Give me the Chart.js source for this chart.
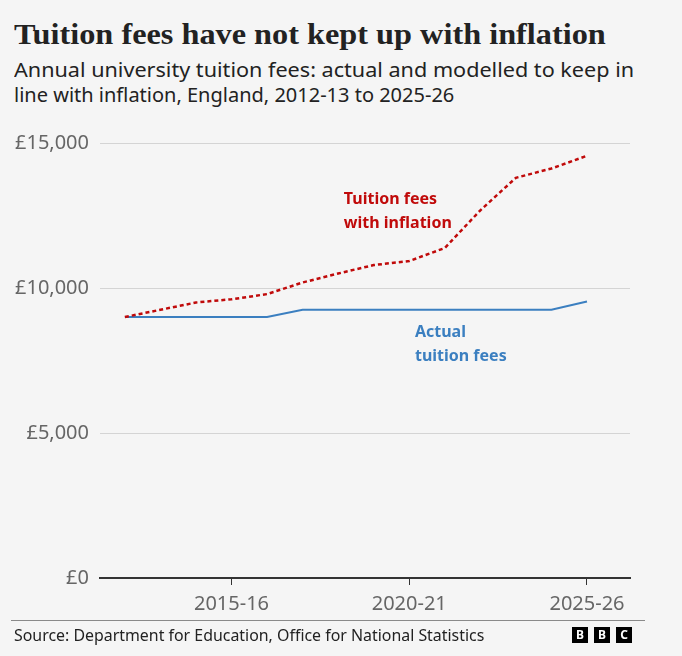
<!DOCTYPE html>
<html>
<head>
<meta charset="utf-8">
<script src="https://cdn.jsdelivr.net/npm/chart.js@4/dist/chart.umd.min.js"></script>
<style>
  body { margin: 0; background: #f5f5f5; width: 682px; height: 656px; position: relative; overflow: hidden; font-family: 'Noto Sans', sans-serif; }
  #title { position: absolute; left: 14px; top: 17px; font: bold 30px 'Liberation Serif', serif; color: #222; white-space: nowrap; transform-origin: 0 0; }
  .sub { position: absolute; left: 14px; font-size: 20px; color: #222; white-space: nowrap; transform-origin: 0 0; }
  #wrap { position: absolute; left: 0; top: 120px; width: 682px; height: 503px; }
  #rule { position: absolute; left: 11px; top: 620px; width: 634px; height: 1px; background: #8a8a8a; }
  #source { position: absolute; left: 14px; top: 624px; font-size: 16px; color: #222; white-space: nowrap; transform-origin: 0 0; }
  .logo { position: absolute; top: 627px; width: 16px; height: 16px; background: #000; color: #fff; font: bold 12px 'Noto Sans', sans-serif; text-align: center; line-height: 16px; }
</style>
</head>
<body>
<div id="title">Tuition fees have not kept up with inflation</div>
<div class="sub" id="sub1" style="top:56px">Annual university tuition fees: actual and modelled to keep in</div>
<div class="sub" id="sub2" style="top:81px">line with inflation, England, 2012-13 to 2025-26</div>
<div id="wrap"><canvas id="feesChart"></canvas></div>
<div id="rule"></div>
<div id="source">Source: Department for Education, Office for National Statistics</div>
<div class="logo" style="left:572px">B</div>
<div class="logo" style="left:594px">B</div>
<div class="logo" style="left:616px">C</div>
<script>
// academic years shown on the x axis
const years = ['2012-13', '2013-14', '2014-15', '2015-16', '2016-17', '2017-18', '2018-19',
  '2019-20', '2020-21', '2021-22', '2022-23', '2023-24', '2024-25', '2025-26'];
// actual fee cap (£)
const actualFees = [9000, 9000, 9000, 9000, 9000, 9250, 9250, 9250, 9250, 9250, 9250, 9250, 9250, 9535];
// fee if it had risen with inflation (£)
const inflationFees = [9000, 9250, 9500, 9610, 9790, 10190, 10500, 10790, 10930, 11380, 12680, 13800, 14120, 14560];
const xTickLabels = ['2015-16', '2020-21', '2025-26'];
const yTicks = [0, 5000, 10000, 15000];

const RED = '#c00a0a';
const BLUE = '#3b7fc0';

// scale the text blocks to the widths they take in the original
const fit = (id, w) => {
  const el = document.getElementById(id);
  el.style.transform = `scaleX(${w / el.offsetWidth})`;
};
fit('title', 592);
fit('sub1', 620);
fit('source', 470);

const toPoints = (vals) => vals.map((v, i) => ({ x: i, y: v }));

// text labels placed next to the lines
const lineLabels = {
  id: 'lineLabels',
  afterDatasetsDraw(chart) {
    const { ctx, scales: { x, y } } = chart;
    const items = [
      { lines: ['Tuition fees', 'with inflation'], color: RED, at: [6.16, 12880] },
      { lines: ['Actual', 'tuition fees'], color: BLUE, at: [8.16, 8310] },
    ];
    ctx.save();
    ctx.font = 'bold 16px "Noto Sans"';
    ctx.textBaseline = 'alphabetic';
    items.forEach(it => {
      ctx.fillStyle = it.color;
      const px = x.getPixelForValue(it.at[0]);
      const py = y.getPixelForValue(it.at[1]);
      it.lines.forEach((t, k) => ctx.fillText(t, px, py + k * 24));
    });
    ctx.restore();
  }
};

new Chart(document.getElementById('feesChart'), {
  type: 'line',
  data: {
    datasets: [
      {
        label: 'Tuition fees with inflation',
        data: toPoints(inflationFees),
        borderColor: RED,
        borderWidth: 2.5,
        borderDash: [4, 3],
        pointRadius: 0,
        tension: 0,
      },
      {
        label: 'Actual tuition fees',
        data: toPoints(actualFees),
        borderColor: BLUE,
        borderWidth: 2,
        pointRadius: 0,
        tension: 0,
      }
    ]
  },
  options: {
    responsive: true,
    maintainAspectRatio: false,
    animation: false,
    layout: { padding: { top: 22, right: 52, left: 0, bottom: 0 } },
    plugins: { legend: { display: false }, tooltip: { enabled: false } },
    scales: {
      x: {
        type: 'linear',
        min: -0.7,
        max: 14.21,
        afterBuildTicks: (scale) => {
          scale.ticks = xTickLabels.map(l => ({ value: years.indexOf(l) }));
        },
        ticks: {
          color: '#666',
          font: { family: 'Noto Sans', size: 20 },
          padding: 7,
          maxRotation: 0,
          callback: (v) => years[v],
        },
        grid: { drawOnChartArea: false, drawTicks: true, tickLength: 7, color: '#333', lineWidth: 1 },
        border: { display: true, color: '#333', width: 2 },
      },
      y: {
        min: 0,
        max: 15000,
        afterBuildTicks: (scale) => { scale.ticks = yTicks.map(v => ({ value: v })); },
        afterFit: (scale) => { scale.width = 100; },
        ticks: {
          color: '#666',
          font: { family: 'Noto Sans', size: 20 },
          padding: 11,
          callback: (v) => '£' + v.toLocaleString('en-GB'),
        },
        grid: {
          drawTicks: false,
          color: (c) => c.tick && c.tick.value === 0 ? 'rgba(0,0,0,0)' : '#d4d4d4',
          lineWidth: 1,
        },
        border: { display: false },
      }
    }
  },
  plugins: [lineLabels]
});
</script>
</body>
</html>
